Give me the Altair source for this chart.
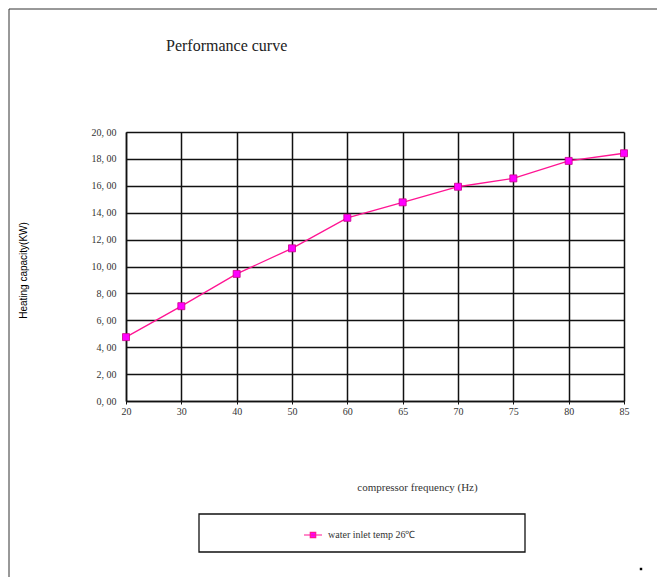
import altair as alt
import pandas as pd

freq = ["20", "30", "40", "50", "60", "65", "70", "75", "80", "85"]
capacity = [4.75, 7.05, 9.45, 11.35, 13.62, 14.77, 15.93, 16.55, 17.85, 18.42]
series_name = "water inlet temp 26℃"
y_ticks = list(range(0, 21, 2))
chart_title = "Performance curve"

df = pd.DataFrame({"freq": freq, "cap": capacity, "series": [series_name] * len(freq)})
dummy = pd.DataFrame({"a": [0]})

SERIF = "Liberation Serif"

x_enc = alt.X(
    "freq:O",
    sort=None,
    scale=alt.Scale(type="point", padding=0),
    axis=alt.Axis(
        title="compressor frequency (Hz)",
        labelAngle=0,
        labelFont=SERIF,
        labelFontSize=10,
        labelColor="#333",
        labelPadding=2,
        labelOverlap=False,
        tickSize=3,
        tickColor="#111",
        domainColor="#111",
        domainWidth=1.5,
        grid=True,
        gridColor="#111",
        gridWidth=1.5,
        titleFont=SERIF,
        titleFontSize=11,
        titleFontWeight="normal",
        titleColor="#333",
        titleX=291,
        titleY=86,
        titleAlign="center",
        titleBaseline="middle",
    ),
)
y_enc = alt.Y(
    "cap:Q",
    scale=alt.Scale(domain=[0, 20], nice=False),
    axis=alt.Axis(
        title="Heating capacity(KW)",
        values=y_ticks,
        labelExpr="replace(format(datum.value, '.2f'), '.', ', ')",
        labelFont=SERIF,
        labelFontSize=10,
        labelColor="#333",
        labelPadding=10,
        labelOverlap=False,
        ticks=False,
        domainColor="#111",
        domainWidth=1.5,
        grid=True,
        gridColor="#111",
        gridWidth=1.5,
        titleFont="Liberation Sans",
        titleFontSize=10,
        titleFontWeight="normal",
        titleColor="#000",
        titleAngle=270,
        titleX=-103,
        titleY=138,
        titleAlign="center",
        titleBaseline="middle",
    ),
)

base = alt.Chart(df).encode(x=x_enc, y=y_enc)

line = base.mark_line(strokeWidth=1.3).encode(
    color=alt.Color(
        "series:N",
        scale=alt.Scale(range=["#FF1493"]),
        legend=alt.Legend(
            title=None,
            orient="none",
            legendX=177,
            legendY=393,
            symbolType="M-1,0L1,0M-0.3,-0.3L0.3,-0.3L0.3,0.3L-0.3,0.3Z",
            symbolSize=324,
            symbolStrokeWidth=1.2,
            symbolFillColor="#FF00FF",
            labelFont=SERIF,
            labelFontSize=10,
            labelColor="#333",
            labelOffset=5,
        ),
    ),
)

points = base.mark_square(size=49, fill="#FF00FF", stroke="#CC0088", strokeWidth=0.8, opacity=1)

title_text = alt.Chart(dummy).mark_text(
    align="left", baseline="alphabetic", font=SERIF, fontSize=16, color="#222"
).encode(x=alt.value(40), y=alt.value(-81), text=alt.value(chart_title))

legend_box = alt.Chart(dummy).mark_rect(fill=None, stroke="#111", strokeWidth=1.3).encode(
    x=alt.value(73), x2=alt.value(399), y=alt.value(382), y2=alt.value(420)
)

border_left = alt.Chart(dummy).mark_rule(color="#333", strokeWidth=1).encode(
    x=alt.value(-117), y=alt.value(-123), y2=alt.value(460)
)
border_top = alt.Chart(dummy).mark_rule(color="#333", strokeWidth=1).encode(
    x=alt.value(-117), x2=alt.value(536), y=alt.value(-123)
)
border_right = alt.Chart(dummy).mark_rule(color="#333", strokeWidth=1).encode(
    x=alt.value(536), y=alt.value(-123), y2=alt.value(460)
)
dot = alt.Chart(dummy).mark_square(size=6, color="#000", opacity=1).encode(
    x=alt.value(515), y=alt.value(437)
)

chart = alt.layer(
    line, points, title_text, legend_box, border_left, border_top, border_right, dot
).properties(
    width=498,
    height=269,
    autosize=alt.AutoSizeParams(type="none"),
    padding={"left": 118, "top": 124, "right": 33, "bottom": 176},
).configure_view(stroke=None)

chart.save("out.html", embed_options={"renderer": "svg", "actions": False})
